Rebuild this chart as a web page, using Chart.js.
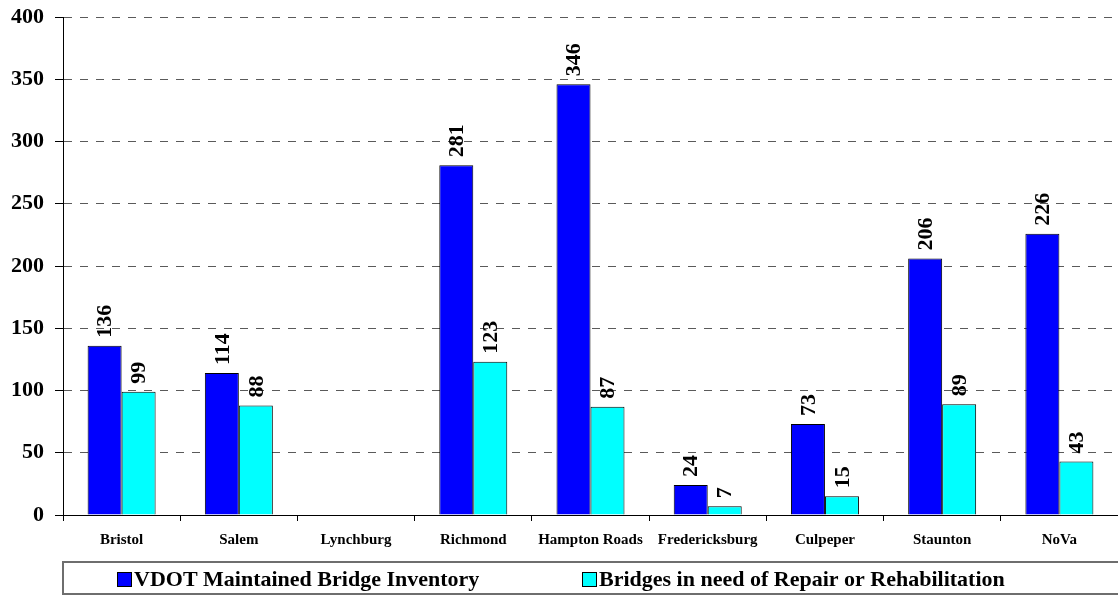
<!DOCTYPE html>
<html>
<head>
<meta charset="utf-8">
<script src="https://cdn.jsdelivr.net/npm/chart.js@4"></script>
<style>
  html, body { margin: 0; padding: 0; background: #fff; }
  #wrap { width: 1118px; height: 597px; position: relative; }
</style>
</head>
<body>
<div id="wrap"><canvas id="chart"></canvas></div>
<script>
const districts = ['Bristol', 'Salem', 'Lynchburg', 'Richmond', 'Hampton Roads', 'Fredericksburg', 'Culpeper', 'Staunton', 'NoVa'];
const inventory = [136, 114, null, 281, 346, 24, 73, 206, 226];
const needRepair = [99, 88, null, 123, 87, 7, 15, 89, 43];
const yTicks = [0, 50, 100, 150, 200, 250, 300, 350, 400];

const serif = '"Liberation Serif", "Times New Roman", serif';

// vertical value labels above each bar
const barLabels = {
    id: 'bar_labels',
    afterDatasetsDraw: (chart) => {
        const ctx = chart.ctx;
        ctx.save();
        ctx.font = 'bold 22px ' + serif;
        ctx.fillStyle = '#000';
        chart.data.datasets.forEach((ds, i) => {
            chart.getDatasetMeta(i).data.forEach((bar, j) => {
                const v = ds.data[j];
                if (v == null) return;
                ctx.save();
                ctx.translate(bar.x, bar.y - 8);
                ctx.rotate(-Math.PI / 2);
                ctx.textAlign = 'left';
                ctx.textBaseline = 'middle';
                ctx.fillText(String(v), 0, 1);
                ctx.restore();
            });
        });
        ctx.restore();
    }
};

// boxed legend under the axis
const boxLegend = {
    id: 'box_legend',
    afterDraw: (chart) => {
        const ctx = chart.ctx;
        const left = chart.chartArea.left;
        const top = 562;
        const h = 32;
        const itemX = [117, 582];
        ctx.save();
        ctx.strokeStyle = '#6e6e6e';
        ctx.lineWidth = 2;
        ctx.strokeRect(left, top, chart.width - left + 2, h);
        ctx.font = 'bold 22px ' + serif;
        ctx.textBaseline = 'middle';
        ctx.textAlign = 'left';
        chart.data.datasets.forEach((ds, i) => {
            const x = itemX[i];
            const cy = top + h / 2 + 1;
            ctx.fillStyle = ds.backgroundColor;
            ctx.fillRect(x, cy - 7, 14, 14);
            ctx.strokeStyle = '#000';
            ctx.lineWidth = 1;
            ctx.strokeRect(x + 0.5, cy - 6.5, 14, 14);
            ctx.fillStyle = '#000';
            ctx.fillText(ds.label, x + 17, cy + 1);
        });
        ctx.restore();
    }
};

new Chart(document.getElementById('chart'), {
    type: 'bar',
    data: {
        labels: districts,
        datasets: [{
            label: 'VDOT Maintained Bridge Inventory',
            data: inventory,
            backgroundColor: '#0000ff',
            borderColor: '#000',
            borderWidth: 1
        }, {
            label: 'Bridges in need of Repair or Rehabilitation',
            data: needRepair,
            backgroundColor: '#00ffff',
            borderColor: '#000',
            borderWidth: 1
        }]
    },
    plugins: [barLabels, boxLegend],
    options: {
        responsive: true,
        maintainAspectRatio: false,
        animation: false,
        layout: {
            padding: { top: 17, right: 0, bottom: 0, left: 0 }
        },
        datasets: {
            bar: {
                barPercentage: 1.0,
                categoryPercentage: 0.58
            }
        },
        scales: {
            x: {
                afterFit: (s) => { s.height = 82; },
                grid: {
                    drawOnChartArea: false,
                    offset: true,
                    color: '#000',
                    tickLength: 6
                },
                border: { color: '#000', width: 1 },
                ticks: {
                    color: '#000',
                    padding: 10,
                    maxRotation: 0,
                    autoSkip: false,
                    font: { family: serif, size: 15, weight: 'bold' }
                }
            },
            y: {
                min: 0,
                max: 400,
                afterFit: (s) => { s.width = 63; },
                afterBuildTicks: (s) => { s.ticks = yTicks.map(v => ({ value: v })); },
                grid: {
                    color: (c) => (c.tick && c.tick.value === 0) ? 'rgba(0,0,0,0)' : '#5a5a5a',
                    tickColor: '#000',
                    tickLength: 8,
                    tickBorderDash: []
                },
                border: { color: '#000', width: 1, dash: [8, 8] },
                ticks: {
                    color: '#000',
                    padding: 11,
                    font: { family: serif, size: 22, weight: 'bold', lineHeight: 0.4 }
                }
            }
        },
        plugins: {
            legend: { display: false },
            tooltip: { enabled: false }
        }
    }
});
</script>
</body>
</html>
